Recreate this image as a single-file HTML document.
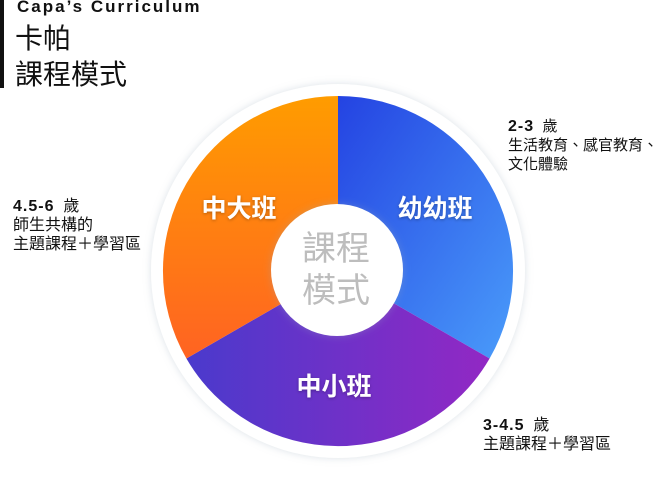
<!DOCTYPE html>
<html><head><meta charset="utf-8"><style>
html,body{margin:0;padding:0;background:#fff;}
body{width:657px;height:497px;position:relative;overflow:hidden;font-family:"Liberation Sans","Noto Sans CJK TC",sans-serif;color:#111;}
.bar{position:absolute;left:0;top:0;width:4px;height:88px;background:#111;}
.t1{position:absolute;left:17px;top:-3px;font-size:17px;font-weight:bold;letter-spacing:2px;}
.t2{position:absolute;left:15px;top:21px;font-size:28px;line-height:36px;}
.lab{position:absolute;font-size:16px;line-height:19px;white-space:nowrap;}
.lab b{font-size:16px;letter-spacing:1px;}
</style></head><body>
<div class="bar"></div>
<div class="t1">Capa’s Curriculum</div>
<div class="t2">卡帕<br>課程模式</div>
<svg width="657" height="497" style="position:absolute;left:0;top:0">
<defs>
<linearGradient id="gb" x1="0" y1="0" x2="1" y2="1"><stop offset="0" stop-color="#2443e2"/><stop offset="1" stop-color="#4a9cfa"/></linearGradient>
<linearGradient id="gp" x1="0" y1="0" x2="1" y2="0"><stop offset="0" stop-color="#4a3acc"/><stop offset="1" stop-color="#9228c4"/></linearGradient>
<linearGradient id="go" x1="0" y1="0" x2="0" y2="1"><stop offset="0" stop-color="#ff9c00"/><stop offset="1" stop-color="#ff6322"/></linearGradient>
<filter id="sh" x="-30%" y="-30%" width="160%" height="160%"><feDropShadow dx="0" dy="0" stdDeviation="4" flood-color="#9ab" flood-opacity="0.35"/></filter>
<filter id="ts"><feDropShadow dx="0" dy="1" stdDeviation="1.5" flood-color="#000" flood-opacity="0.3"/></filter>
</defs>
<circle cx="338" cy="271" r="187" fill="#fff" filter="url(#sh)"/>
<path d="M338 271 L338 96 A175 175 0 0 1 489.6 358.5 Z" fill="url(#gb)"/>
<path d="M338 271 L489.6 358.5 A175 175 0 0 1 186.4 358.5 Z" fill="url(#gp)"/>
<path d="M338 271 L186.4 358.5 A175 175 0 0 1 338 96 Z" fill="url(#go)"/>
<circle cx="337" cy="270" r="66" fill="#fff" filter="url(#sh)"/>
<g font-family="Liberation Sans,Noto Sans CJK TC,sans-serif" font-weight="bold" font-size="25" fill="#fff" text-anchor="middle" filter="url(#ts)">
<text x="435" y="217">幼幼班</text>
<text x="239" y="217">中大班</text>
<text x="334" y="395">中小班</text>
</g>
<g font-family="Liberation Sans,Noto Sans CJK TC,sans-serif" font-size="34" fill="#bdbdbd" text-anchor="middle">
<text x="336" y="260">課程</text>
<text x="336" y="302">模式</text>
</g>
</svg>
<div class="lab" style="left:508px;top:117px;font-size:15px"><b>2-3</b>&nbsp; 歲<br>生活教育、感官教育、<br>文化體驗</div>
<div class="lab" style="left:13px;top:197px"><b>4.5-6</b>&nbsp; 歲<br>師生共構的<br>主題課程＋學習區</div>
<div class="lab" style="left:483px;top:416px"><b>3-4.5</b>&nbsp; 歲<br>主題課程＋學習區</div>
</body></html>
